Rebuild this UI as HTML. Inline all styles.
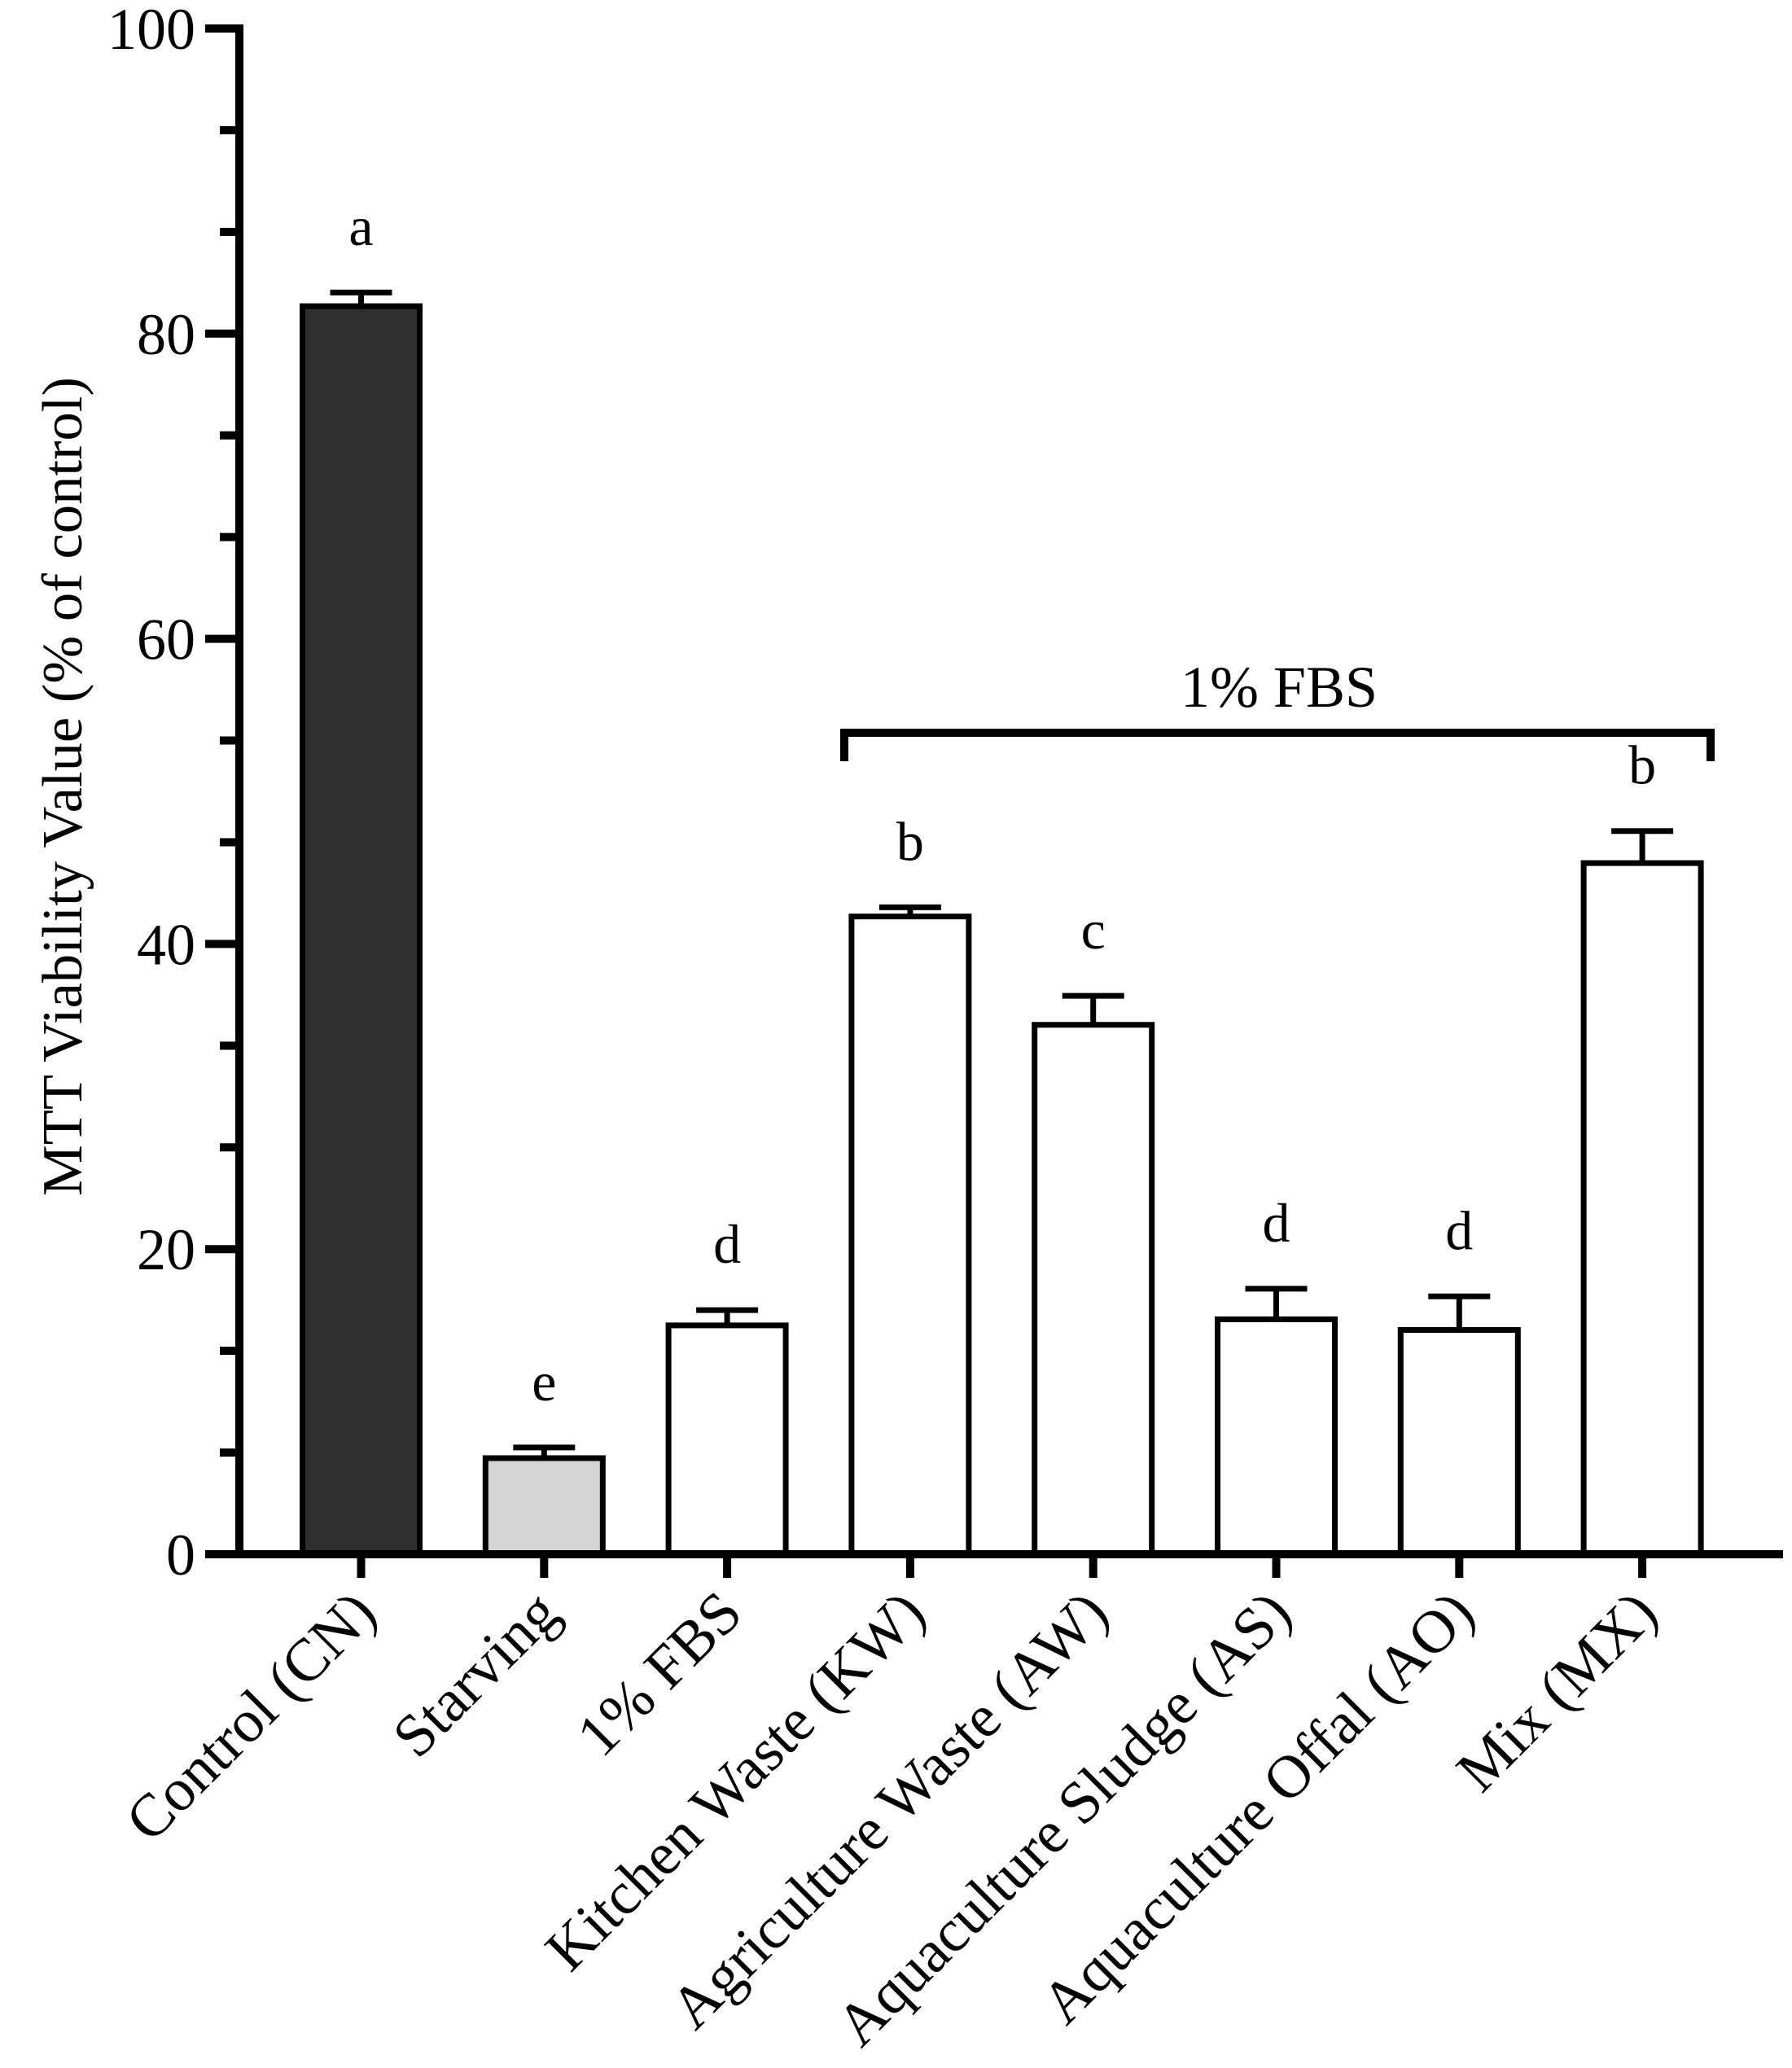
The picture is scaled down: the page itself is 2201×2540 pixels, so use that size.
<!DOCTYPE html>
<html><head><meta charset="utf-8"><style>
html,body{margin:0;padding:0;background:#fff}
svg{display:block}
text{font-family:"Liberation Serif",serif;fill:#000}
</style></head><body>
<svg id="chart" width="2201" height="2540" viewBox="0 0 2201 2540" xmlns="http://www.w3.org/2000/svg"></svg>
<script>
const categories = ["Control (CN)","Starving","1% FBS","Kitchen Waste (KW)","Agriculture Waste (AW)","Aquaculture Sludge (AS)","Aquaculture Offal (AO)","Mix (MX)"];
const values = [81.8, 6.3, 15.0, 41.8, 34.7, 15.4, 14.7, 45.3];
const errors = [0.9, 0.7, 1.0, 0.6, 1.9, 2.0, 2.2, 2.1];
const letters = ["a","e","d","b","c","d","d","b"];
const fills = ["#2e2e2e","#d4d4d4","#fff","#fff","#fff","#fff","#fff","#fff"];
const yTicks = [0,20,40,60,80,100];

const svg = document.getElementById('chart');
const NS = "http://www.w3.org/2000/svg";
const y0 = 1909, pxPerUnit = 18.74;
function yScale(v){ return y0 - v*pxPerUnit; }
function xScale(i){ return 443.5 + i*224.8; }
function mk(tag, attrs){ const e=document.createElementNS(NS,tag); for(const k in attrs) e.setAttribute(k,attrs[k]); svg.appendChild(e); return e; }

categories.forEach((c,i)=>{
  const cx=xScale(i), top=yScale(values[i]), w=144;
  const r=mk('rect',{x:cx-w/2,y:top,width:w,height:y0-top,fill:fills[i],stroke:'#000','stroke-width':7});
  
  
  const et=yScale(values[i]+errors[i]);
  const l=mk('line',{x1:cx,y1:top,x2:cx,y2:et,stroke:'#000','stroke-width':7});
  
  
  const cap=mk('line',{x1:cx-38,y1:et,x2:cx+38,y2:et,stroke:'#000','stroke-width':7});
  
  
  const t=mk('text',{x:cx,y:et-58,'text-anchor':'middle','font-size':68});
  t.textContent=letters[i];
  
  
  const tk=mk('line',{x1:cx,y1:y0,x2:cx,y2:1938,stroke:'#000','stroke-width':10});
  
  
  const lb=mk('text',{x:cx+22,y:1985,'text-anchor':'end','font-size':74,transform:`rotate(-45 ${cx+22} 1985)`});
  lb.textContent=c;
  
  
});

const ya=mk('line',{x1:294,y1:30,x2:294,y2:1914,stroke:'#000','stroke-width':10});


const xa=mk('line',{x1:289,y1:y0,x2:2190,y2:y0,stroke:'#000','stroke-width':10});


yTicks.forEach((v,i)=>{
  const y=yScale(v);
  const t=mk('line',{x1:252,y1:y,x2:294,y2:y,stroke:'#000','stroke-width':10});
  
  
  const l=mk('text',{x:240,y:y+25,'text-anchor':'end','font-size':72});
  l.textContent=v;
  
  
  if(i<yTicks.length-1){
    for(let k=1;k<3;k++){
      const ym=yScale(v+k*(yTicks[i+1]-v)/3);
      const m=mk('line',{x1:270,y1:ym,x2:294,y2:ym,stroke:'#000','stroke-width':10});
      
      
    }
  }
});
const yt=mk('text',{x:100,y:966,'text-anchor':'middle','font-size':70,'font-family':'Liberation Serif, serif',textLength:1006,lengthAdjust:'spacingAndGlyphs',transform:'rotate(-90 100 966)'});
yt.textContent='MTT Viability Value (% of control)';



const br=mk('path',{d:'M1037 935 L1037 900 L2101 900 L2101 935',fill:'none',stroke:'#000','stroke-width':10});


const bt=mk('text',{x:1571,y:868,'text-anchor':'middle','font-size':72});
bt.textContent='1% FBS';


</script>
</body></html>
